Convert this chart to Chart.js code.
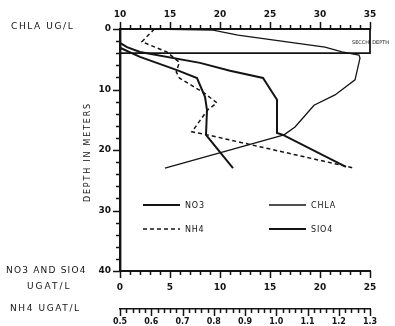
<!DOCTYPE html>
<html>
<head>
<meta charset="utf-8">
<script src="https://cdn.jsdelivr.net/npm/chart.js@4.4.1/dist/chart.umd.min.js"></script>
<style>
html, body { margin: 0; padding: 0; background: #fff; }
#wrap { width: 395px; height: 326px; }
</style>
</head>
<body>
<div id="wrap"><canvas id="profileChart" width="395" height="326"></canvas></div>
<script>
// depth profile, values
const chlaDepth = [0, 0.2, 1.0, 3.0, 3.8, 4.3, 4.8, 8.4, 10.9, 12.6, 14.5, 16.2, 17.5, 23.0];
const chlaValue = [13.3, 19.3, 21.8, 30.5, 32.2, 33.9, 34.0, 33.5, 31.5, 29.4, 28.4, 27.5, 26.4, 14.5];

const no3Depth = [0, 3.1, 4.6, 6.8, 8.1, 11.2, 13.4, 17.5, 23.0];
const no3Value = [0, 0, 2.0, 5.7, 7.7, 8.5, 8.7, 8.6, 11.3];

const sio4Depth = [0, 2.3, 3.0, 3.8, 5.6, 6.9, 8.1, 11.7, 17.2, 17.5, 22.8];
const sio4Value = [0, 0, 0.7, 2.0, 8.0, 11.0, 14.3, 15.7, 15.7, 16.3, 22.6];

const nh4Depth = [0, 2.1, 3.8, 5.5, 7.1, 8.1, 10.6, 12.2, 13.4, 17.0, 17.5, 23.0];
const nh4Value = [0.61, 0.57, 0.65, 0.69, 0.68, 0.69, 0.77, 0.81, 0.78, 0.73, 0.78, 1.25];

const secchiDepth = 4.0;

const chlaTicks = [10, 15, 20, 25, 30, 35];
const nutrientTicks = [0, 5, 10, 15, 20, 25];
const nh4Ticks = [0.5, 0.6, 0.7, 0.8, 0.9, 1.0, 1.1, 1.2, 1.3];
const depthTicks = [0, 10, 20, 30, 40];

const ink = "#141414";
const numFont = { family: "DejaVu Sans", size: 9, weight: "bold" };
const smallNumFont = { family: "DejaVu Sans", size: 8, weight: "bold" };

function pairs(xs, ys){
    return xs.map((v, i) => ({ x: v, y: ys[i] }));
}

function isMajor(v, list){
    return list.some(t => Math.abs(t - v) < 1e-6);
}

function fmtNh4(v){
    return v.toFixed(1);
}

// minor step for each axis, tick marks drawn through the scales
const minorStep = { xChla: 1, xNut: 1, xNh4: 0.02, y: 2 };

const tickMarks = {
    id: "tickMarks",
    afterDraw(chart){
        const ctx = chart.ctx;
        ctx.save();
        ctx.strokeStyle = ink;
        ctx.lineWidth = 1.5;
        const defs = [
            ["xChla", chlaTicks, "up"],
            ["xNut", nutrientTicks, "down"],
            ["xNh4", nh4Ticks, "down"],
            ["y", depthTicks, "left"]
        ];
        defs.forEach(function(d){
            const s = chart.scales[d[0]];
            const step = minorStep[d[0]];
            const n = Math.round((s.max - s.min) / step);
            for(let i = 0; i <= n; i++){
                const v = s.min + i * step;
                const len = isMajor(v, d[1]) ? 7 : 4;
                const p = Math.round(s.getPixelForValue(v)) + 0.5;
                ctx.beginPath();
                if(d[2] === "up"){
                    ctx.moveTo(p, s.bottom); ctx.lineTo(p, s.bottom - len);
                }else if(d[2] === "down"){
                    ctx.moveTo(p, s.top); ctx.lineTo(p, s.top + len);
                }else{
                    ctx.moveTo(s.right, p); ctx.lineTo(s.right - len, p);
                }
                ctx.stroke();
            }
        });
        ctx.restore();
    }
};

// axis captions, legend and secchi note
const captions = {
    id: "captions",
    afterDraw(chart){
        const ctx = chart.ctx;
        const area = chart.chartArea;
        ctx.save();
        ctx.fillStyle = ink;
        ctx.textBaseline = "middle";
        ctx.font = "9px 'DejaVu Sans'";
        ctx.textAlign = "left";
        ctx.letterSpacing = "1.6px";
        ctx.fillText("CHLA UG/L", 11, 27);
        ctx.letterSpacing = "1.2px";
        ctx.fillText("NO3 AND SIO4", 6, 271);
        ctx.letterSpacing = "2px";
        ctx.fillText("UGAT/L", 27, 287);
        ctx.letterSpacing = "1.6px";
        ctx.fillText("NH4 UGAT/L", 10, 309);

        ctx.save();
        ctx.translate(88, (area.top + area.bottom) / 2 + 2);
        ctx.rotate(-Math.PI / 2);
        ctx.textAlign = "center";
        ctx.font = "8px 'DejaVu Sans'";
        ctx.letterSpacing = "1.8px";
        ctx.fillText("DEPTH IN METERS", 0, 0);
        ctx.restore();

        ctx.letterSpacing = "0px";
        ctx.font = "5px 'DejaVu Sans'";
        ctx.fillText("SECCHI DEPTH", area.right - 18, 43);

        // legend
        ctx.font = "8px 'DejaVu Sans'";
        ctx.letterSpacing = "0.8px";
        const ds = chart.data.datasets;
        const rows = [
            [ds[1], area.left + 23, area.top + 176],
            [ds[3], area.left + 23, area.top + 200],
            [ds[0], area.left + 149, area.top + 176],
            [ds[2], area.left + 149, area.top + 200]
        ];
        rows.forEach(function(r){
            const d = r[0];
            ctx.strokeStyle = ink;
            ctx.lineWidth = d.borderWidth;
            ctx.setLineDash(d.borderDash || []);
            ctx.beginPath();
            ctx.moveTo(r[1], r[2]);
            ctx.lineTo(r[1] + 37, r[2]);
            ctx.stroke();
            ctx.setLineDash([]);
            ctx.fillText(d.label, r[1] + 42, r[2] + 0.5);
        });
        ctx.restore();
    }
};

const ctx = document.getElementById("profileChart").getContext("2d");

new Chart(ctx, {
    type: "scatter",
    data: {
        datasets: [
            {
                label: "CHLA",
                data: pairs(chlaValue, chlaDepth),
                xAxisID: "xChla",
                borderColor: ink,
                borderWidth: 1.3,
                showLine: true,
                pointRadius: 0
            },
            {
                label: "NO3",
                data: pairs(no3Value, no3Depth),
                xAxisID: "xNut",
                borderColor: ink,
                borderWidth: 2,
                showLine: true,
                pointRadius: 0
            },
            {
                label: "SIO4",
                data: pairs(sio4Value, sio4Depth),
                xAxisID: "xNut",
                borderColor: ink,
                borderWidth: 2,
                showLine: true,
                pointRadius: 0
            },
            {
                label: "NH4",
                data: pairs(nh4Value, nh4Depth),
                xAxisID: "xNh4",
                borderColor: ink,
                borderWidth: 1.5,
                borderDash: [4, 3],
                showLine: true,
                pointRadius: 0
            },
            {
                label: "SECCHI",
                data: [
                    { x: chlaTicks[0], y: secchiDepth },
                    { x: chlaTicks[chlaTicks.length - 1], y: secchiDepth },
                    { x: chlaTicks[chlaTicks.length - 1], y: 0 }
                ],
                xAxisID: "xChla",
                borderColor: ink,
                borderWidth: 1.8,
                showLine: true,
                pointRadius: 0
            }
        ]
    },
    options: {
        responsive: false,
        animation: false,
        devicePixelRatio: 1,
        layout: { padding: { left: 0, right: 25, top: 0, bottom: 0 } },
        plugins: {
            legend: { display: false },
            tooltip: { enabled: false }
        },
        elements: { line: { tension: 0 } },
        datasets: { scatter: { clip: 6 } },
        scales: {
            xChla: {
                type: "linear",
                position: "top",
                min: 10,
                max: 35,
                ticks: {
                    stepSize: 1,
                    autoSkip: false,
                    maxRotation: 0,
                    minRotation: 0,
                    padding: 9,
                    color: ink,
                    font: numFont,
                    callback: v => isMajor(v, chlaTicks) ? String(v) : ""
                },
                grid: { display: false, drawTicks: false },
                border: { display: true, width: 2, color: ink },
                afterFit: s => { s.height = 29; }
            },
            xNut: {
                type: "linear",
                position: "bottom",
                weight: 1,
                min: 0,
                max: 25,
                ticks: {
                    stepSize: 1,
                    autoSkip: false,
                    maxRotation: 0,
                    minRotation: 0,
                    padding: 11,
                    color: ink,
                    font: numFont,
                    callback: v => isMajor(v, nutrientTicks) ? String(v) : ""
                },
                grid: { display: false, drawTicks: false },
                border: { display: true, width: 2, color: ink },
                afterFit: s => { s.height = 38; }
            },
            xNh4: {
                type: "linear",
                position: "bottom",
                weight: 2,
                min: 0.5,
                max: 1.3,
                ticks: {
                    stepSize: 0.02,
                    autoSkip: false,
                    maxRotation: 0,
                    minRotation: 0,
                    padding: 8,
                    color: ink,
                    font: smallNumFont,
                    callback: v => isMajor(v, nh4Ticks) ? fmtNh4(v) : ""
                },
                grid: { display: false, drawTicks: false },
                border: { display: true, width: 1.6, color: ink },
                afterFit: s => { s.height = 17; }
            },
            y: {
                type: "linear",
                position: "left",
                reverse: true,
                min: 0,
                max: 40,
                ticks: {
                    stepSize: 2,
                    autoSkip: false,
                    padding: 9,
                    color: ink,
                    font: numFont,
                    callback: v => isMajor(v, depthTicks) ? String(v) : ""
                },
                grid: { display: false, drawTicks: false },
                border: { display: true, width: 2.4, color: ink },
                afterFit: s => { s.width = 120; }
            }
        }
    },
    plugins: [tickMarks, captions]
});
</script>
</body>
</html>
